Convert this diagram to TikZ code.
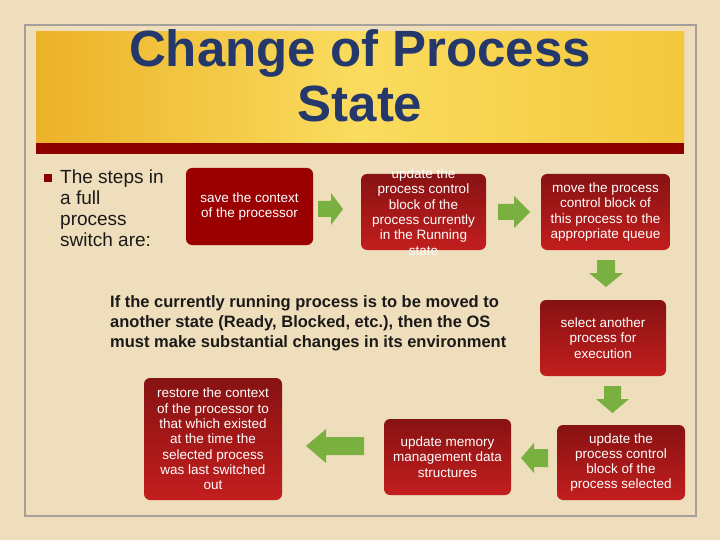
\documentclass[tikz,border=0pt]{standalone}
\usepackage{fontspec}
\setmainfont{Liberation Sans}
\definecolor{parch}{RGB}{238,222,188}
\definecolor{framegray}{RGB}{165,160,155}
\definecolor{goldA}{RGB}{244,200,60}
\definecolor{goldB}{RGB}{250,220,95}
\definecolor{goldC}{RGB}{236,178,40}
\definecolor{barred}{RGB}{140,0,0}
\definecolor{navy}{RGB}{36,56,108}
\definecolor{boxtop}{RGB}{135,18,18}
\definecolor{boxbot}{RGB}{195,30,30}
\definecolor{boxflat}{RGB}{155,0,0}
\definecolor{arrowgreen}{RGB}{122,176,64}
\definecolor{ink}{RGB}{28,26,24}
\tikzset{
  box/.style={rounded corners=6pt, top color=boxtop, bottom color=boxbot, draw=none, inner sep=0pt},
  flatbox/.style={rounded corners=6pt, fill=boxflat, draw=none, inner sep=0pt},
  boxtext/.style={text=white, align=center, inner sep=0pt, font=\fontsize{13.5}{15.3}\selectfont},
  garrow/.style={fill=arrowgreen, draw=none},
  title/.style={text=navy, font=\fontsize{51}{51}\selectfont\bfseries, inner sep=0pt, anchor=base}
}
\begin{document}
\begin{tikzpicture}[x=1pt,y=-1pt]
\useasboundingbox (0,0) rectangle (720,540);
\fill[parch] (0,0) rectangle (720,540);
\draw[framegray, line width=2pt] (25,25) rectangle (696,516);
% banner
\shade[left color=goldC, right color=goldA, middle color=goldB] (36,32) rectangle (684,143);
\fill[barred] (36,143) rectangle (684,154);
\node[title] (t1) at (360,67) {Change of Process};
\node[title] (t2) at (360,122) {State};
% bullet text
\fill[barred] (44,174) rectangle (52,182);
\node[anchor=north west, align=left, text=ink, inner sep=0pt,
      font=\fontsize{19}{21}\selectfont] (steps) at (60,170)
  {The steps in\\a full\\process\\switch are:};
% boxes
\node[flatbox, minimum width=127, minimum height=77] (b1) at (249.5,206.5) {};
\node[box, minimum width=125, minimum height=76] (b2) at (423.5,212) {};
\node[box, minimum width=129, minimum height=76] (b3) at (605.5,212) {};
\node[box, minimum width=126, minimum height=76] (b4) at (603,338) {};
\node[box, minimum width=128, minimum height=75] (b5) at (621,462.5) {};
\node[box, minimum width=127, minimum height=76] (b6) at (447.5,457) {};
\node[box, minimum width=138, minimum height=122] (b7) at (213,439) {};
\node[boxtext] (l1) at (b1) {save the context\\of the processor};
\node[boxtext] (l2) at (b2) {update the\\process control\\block of the\\process currently\\in the Running\\state};
\node[boxtext] (l3) at (b3) {move the process\\control block of\\this process to the\\appropriate queue};
\node[boxtext] (l4) at (b4) {select another\\process for\\execution};
\node[boxtext] (l5) at (b5) {update the\\process control\\block of the\\process selected};
\node[boxtext] (l6) at (b6) {update memory\\management data\\structures};
\node[boxtext] (l7) at (b7) {restore the context\\of the processor to\\that which existed\\at the time the\\selected process\\was last switched\\out};
% green block arrows
\fill[garrow] (318,201)--(331,201)--(331,193)--(343,209)--(331,225)--(331,217)--(318,217)--cycle;
\fill[garrow] (498,204)--(514,204)--(514,196)--(530,212)--(514,228)--(514,220)--(498,220)--cycle;
\fill[garrow] (597,260)--(615,260)--(615,273)--(623,273)--(606,287)--(589,273)--(597,273)--cycle;
\fill[garrow] (604,386)--(621,386)--(621,399)--(629,399)--(612.5,413)--(596,399)--(604,399)--cycle;
\fill[garrow] (548,449)--(534,449)--(534,443)--(521,458)--(534,473)--(534,467)--(548,467)--cycle;
\fill[garrow] (364,437)--(326,437)--(326,429)--(306,446)--(326,463)--(326,455)--(364,455)--cycle;
% middle text
\node[anchor=north west, align=left, text=ink, inner sep=0pt,
      font=\fontsize{16.5}{20}\selectfont\bfseries] (note) at (110,295)
  {If the currently running process is to be moved to\\another state (Ready, Blocked, etc.), then the OS\\must make substantial changes in its environment};
\end{tikzpicture}
\end{document}
